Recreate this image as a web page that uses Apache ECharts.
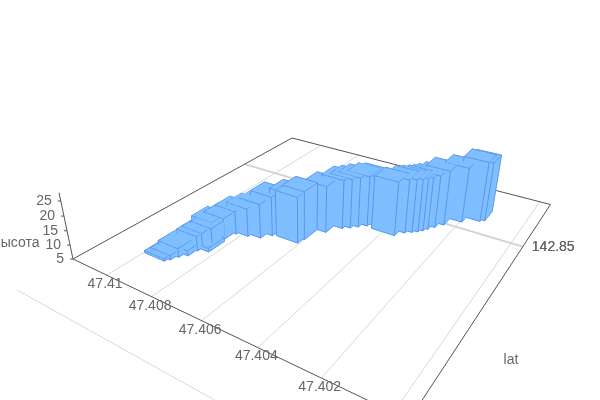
<!DOCTYPE html>
<html>
<head>
<meta charset="utf-8">
<style>html,body{margin:0;padding:0;background:#fff}#c{width:600px;height:400px}</style>
<script src="https://cdn.jsdelivr.net/npm/echarts@6/dist/echarts.min.js"></script>
</head>
<body>
<div id="c"></div>
<script>
var lats = [47.40951,47.4094,47.40928,47.40909,47.40903,47.40868,47.40897,47.40878,47.40900,47.40877,47.40865,47.40821,47.40778,47.40753,47.40685,47.40652,47.40646,47.4061,47.40575,47.40553,47.40533,47.4051,47.40491,47.40399,47.40376,47.40357,47.40341,47.40329,47.40319,47.40304,47.40284,47.40238,47.40185,47.40172];
var lngs = [142.84365,142.8438,142.84404,142.84425,142.84462,142.84476,142.84479,142.84504,142.84528,142.84561,142.84604,142.84614,142.84628,142.8466,142.84678,142.84668,142.84697,142.84772,142.84822,142.84839,142.84859,142.84881,142.84896,142.84876,142.84909,142.84925,142.84938,142.84953,142.84971,142.84995,142.85026,142.85077,142.85115,142.85128];
var heights = [5.8,6.5,8.1,6.8,10.1,6.3,10.5,11.6,11.8,12.4,13.2,15,17.2,19,20.9,21.4,22.2,21.7,22.6,22.8,23,23.1,22.9,24.3,24.2,24.1,24.1,24,23.8,23.9,24.8,24.9,26.8,26.4];
var latTicks = [47.41,47.408,47.406,47.404,47.402,47.40];
var latLabels = ['47.41','47.408','47.406','47.404','47.402',''];
var lngTicks = [142.84,142.85];
var lngLabels = ['','142.85'];
var heightTicks = [5,10,15,20,25];
var latName = 'lat', heightName = 'высота';

var latRange = [47.3996,47.41164], lngRange = [142.84185,142.85328], heightRange = [5,27.7];
var barLat = 0.0009, barLng = 0.00074;
var W = 600, H = 400;
// camera: ground-plane affine frame, vertical vanishing point
var A=[.1906,2.611], dS=[.5612,-.773], dT=[.9239,1.206], VP=[303,1350], hK=.00659, hor=-124;

function projector(api){
  return function(lat,lng,h){
    var c = api.coord([lat,lng]), s=c[0]/W, t=1-c[1]/H;
    var p=A[0]+s*dS[0]+t*dT[0], q=A[1]+s*dS[1]+t*dT[1];
    var e=hK*(h-heightRange[0]);
    var w=q-e;
    return [(1000*p-e*VP[0])/w, (1000+hor*q-e*VP[1])/w];
  };
}
var FACE='#7fbfff', EDGE='#5a96ee';
function poly(pts){return {type:'polygon',shape:{points:pts},style:{fill:FACE,stroke:FACE,lineWidth:.6}};}
function line(a,b,c,w){return {type:'line',shape:{x1:a[0],y1:a[1],x2:b[0],y2:b[1]},style:{stroke:c,lineWidth:w,fill:null}};}
function text(str,x,y,size,fill,align){return {type:'text',style:{text:str,x:x,y:y,fill:fill,align:align||'center',verticalAlign:'middle',font:size+'px "Liberation Sans", Arial, sans-serif'}};}

// bars overlap on the ground, so resolve them into a height field (visible surface per footprint cell)
var bars = lats.map(function(v,i){return {sLo:v+barLat/2,sHi:v-barLat/2,tLo:lngs[i]-barLng/2,tHi:lngs[i]+barLng/2,h:heights[i]};});
function uniq(a){return a.filter(function(v,i){return a.indexOf(v)===i;});}
var latEdges = uniq(bars.map(function(b){return b.sLo;}).concat(bars.map(function(b){return b.sHi;}))).sort(function(a,b){return b-a;});
var lngEdges = uniq(bars.map(function(b){return b.tLo;}).concat(bars.map(function(b){return b.tHi;}))).sort(function(a,b){return b-a;});
var cells = [];
for(var j=0;j<lngEdges.length-1;j++){
  for(var i=0;i<latEdges.length-1;i++){
    var la0=latEdges[i],la1=latEdges[i+1],ln1=lngEdges[j],ln0=lngEdges[j+1];
    var cLa=(la0+la1)/2,cLn=(ln0+ln1)/2,own=null;
    bars.forEach(function(b){
      if(cLa<b.sLo&&cLa>b.sHi&&cLn>b.tLo&&cLn<b.tHi&&(!own||b.h>own.h))own=b;
    });
    if(!own)continue;
    var f=(own.tLo===ln0?1:0)|(own.tHi===ln1?2:0)|(own.sLo===la0?4:0)|(own.sHi===la1?8:0);
    cells.push([(la0+la1)/2,(ln0+ln1)/2,la0,la1,ln0,ln1,own.h,f]);
  }
}

function renderFrame(params,api){
  var P=projector(api), b=heightRange[0], ch=[];
  var la0=latRange[1], la1=latRange[0], ln0=lngRange[0], ln1=lngRange[1];
  var GR='#d9d9d9', DK='#555555', TX='#666666';
  latTicks.forEach(function(v){ch.push(line(P(v,ln0,b),P(v,ln1,b),GR,1));});
  lngTicks.forEach(function(v,i){ch.push(line(P(la0,v,b),P(la1,v,b),v===142.85?'#d2d2d2':GR,v===142.85?2:1));});
  var a=P(la0,ln0,b),bk=P(la0,ln1,b),c=P(la1,ln1,b),d=P(la1,ln0,b);
  ch.push(line(a,bk,DK,1),line(bk,c,DK,1),line(c,d,DK,1),line(d,a,DK,1));
  ch.push(line(a,P(la0,ln0,heightRange[1]),DK,1));
  heightTicks.forEach(function(v){
    var q=P(la0,ln0,v);
    ch.push(line([q[0]-3,q[1]],q,DK,1));
    ch.push(text(String(v),q[0]-9,q[1],14,TX,'right'));
  });
  ch.push(text(heightName,39.5,243,14,TX,'right'));
  latTicks.forEach(function(v,i){
    if(!latLabels[i])return;
    var q=P(v,ln0,b);
    ch.push(text(latLabels[i],q[0]-1.5,q[1]+9,14,TX));
  });
  lngTicks.forEach(function(v,i){
    if(!lngLabels[i])return;
    var q=P(la1,v,b);
    ch.push(text(lngLabels[i],q[0]+9,q[1],14,TX,'left'));
    ch.push(text(lngLabels[i],q[0]+9,q[1],14,TX,'left'));
  });
  ch.push(text(latName,511,360,14,TX));
  return {type:'group',children:ch};
}
function renderCell(params,api){
  var P=projector(api), b=heightRange[0];
  var sLo=api.value(2),sHi=api.value(3),tLo=api.value(4),tHi=api.value(5),h=api.value(6),f=api.value(7);
  function g(x,y,z){return P(x,y,z);}
  var ch=[
    poly([g(sLo,tLo,b),g(sHi,tLo,b),g(sHi,tLo,h),g(sLo,tLo,h)]),
    poly([g(sHi,tLo,b),g(sHi,tHi,b),g(sHi,tHi,h),g(sHi,tLo,h)]),
    poly([g(sLo,tLo,h),g(sHi,tLo,h),g(sHi,tHi,h),g(sLo,tHi,h)])
  ];
  function e(x1,y1,z1,x2,y2,z2){ch.push(line(g(x1,y1,z1),g(x2,y2,z2),EDGE,1));}
  if(f&1){e(sLo,tLo,h,sHi,tLo,h);e(sLo,tLo,b,sHi,tLo,b);}
  if(f&2){e(sLo,tHi,h,sHi,tHi,h);}
  if(f&4){e(sLo,tLo,h,sLo,tHi,h);}
  if(f&8){e(sHi,tLo,h,sHi,tHi,h);e(sHi,tLo,b,sHi,tHi,b);}
  if((f&1)&&(f&8))e(sHi,tLo,b,sHi,tLo,h);
  if((f&1)&&(f&4))e(sLo,tLo,b,sLo,tLo,h);
  if((f&8)&&(f&2))e(sHi,tHi,b,sHi,tHi,h);
  return {type:'group',children:ch};
}
var chart = echarts.init(document.getElementById('c'),null,{renderer:'canvas'});
chart.setOption({
  animation:false,
  backgroundColor:'#ffffff',
  grid:{left:0,right:0,top:0,bottom:0},
  xAxis:{type:'value',inverse:true,min:latRange[0],max:latRange[1],show:false},
  yAxis:{type:'value',min:lngRange[0],max:lngRange[1],show:false},
  series:[
    {type:'custom',name:'frame',coordinateSystem:'cartesian2d',clip:false,silent:true,z:1,data:[[latRange[0],lngRange[0]]],renderItem:renderFrame},
    {type:'custom',name:'высота',coordinateSystem:'cartesian2d',clip:false,silent:true,z:2,progressive:0,data:cells,encode:{x:0,y:1},renderItem:renderCell}
  ]
});
</script>
</body>
</html>
